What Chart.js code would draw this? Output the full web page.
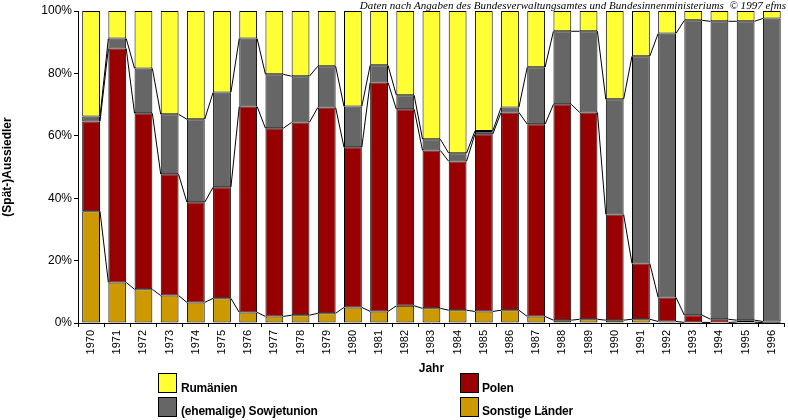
<!DOCTYPE html>
<html>
<head>
<meta charset="utf-8">
<script src="https://cdn.jsdelivr.net/npm/chart.js@4/dist/chart.umd.min.js"></script>
<style>
  body { margin: 0; background: #fff; }
  #wrap { position: relative; width: 788px; height: 420px; }
  .note { position: absolute; right: 2px; top: -1px; font: italic 11px "Liberation Serif", serif; letter-spacing: 0.05px; white-space: nowrap; color: #000; }
  .box { position: absolute; border: 1px solid #000; box-sizing: border-box; width: 19px; height: 20px; }
  .lbl { position: absolute; font: bold 12px "Liberation Sans", sans-serif; letter-spacing: -0.2px; line-height: 12px; white-space: nowrap; color: #000; }
</style>
</head>
<body>
<div id="wrap">
  <canvas id="chart" width="788" height="420"></canvas>
  <div class="note">Daten nach Angaben des Bundesverwaltungsamtes und Bundesinnenministeriums &nbsp;© 1997 efms</div>
  <div class="box" style="left:158px;top:373px;background:#ffff33"></div>
  <div class="lbl" style="left:181px;top:382px">Rumänien</div>
  <div class="box" style="left:158px;top:397px;background:#666666"></div>
  <div class="lbl" style="left:181px;top:405px">(ehemalige) Sowjetunion</div>
  <div class="box" style="left:460px;top:373px;background:#990000"></div>
  <div class="lbl" style="left:482px;top:382px">Polen</div>
  <div class="box" style="left:460px;top:397px;background:#cc9900"></div>
  <div class="lbl" style="left:482px;top:405px">Sonstige Länder</div>
</div>
<script>
// Data (shares in %)

const years = ['1970', '1971', '1972', '1973', '1974', '1975', '1976', '1977', '1978', '1979',
  '1980', '1981', '1982', '1983', '1984', '1985', '1986', '1987', '1988', '1989',
  '1990', '1991', '1992', '1993', '1994', '1995', '1996']

const sonstige = [35.8, 13.0, 10.8, 8.8, 6.6, 7.9, 3.4, 2.1, 2.5, 3.1,
  5.0, 3.7, 5.5, 4.7, 4.1, 3.7, 4.1, 2.1, 0.9, 1.2,
  0.9, 1.2, 0.5, 0.2, 0.2, 0.3, 0.1]

const polen = [28.8, 75.0, 56.4, 38.9, 32.1, 35.6, 66.0, 60.3, 61.8, 66.0,
  51.3, 73.4, 63.0, 50.6, 47.7, 56.8, 63.4, 61.6, 69.2, 66.3,
  33.9, 17.9, 7.7, 2.3, 1.0, 0.6, 0.4]

const sowjetunion = [1.6, 3.2, 14.4, 19.2, 26.6, 30.4, 21.8, 17.3, 14.8, 13.2,
  13.1, 5.5, 4.5, 3.6, 2.6, 1.0, 1.6, 18.3, 23.4, 26.0,
  36.9, 66.4, 84.6, 94.5, 95.5, 95.8, 97.1]

const rumaenien = [33.8, 8.8, 18.4, 33.1, 34.7, 26.1, 8.8, 20.3, 20.9, 17.7,
  30.6, 17.4, 27.0, 41.1, 45.6, 38.5, 30.9, 18.0, 6.5, 6.5,
  28.3, 14.5, 7.2, 3.0, 3.3, 3.3, 2.4]

const yTicks = [0, 20, 40, 60, 80, 100]

// Series lines between the bar tops

const seriesLines = {
  id: 'seriesLines',
  afterDatasetsDraw(chart) {
    const { ctx } = chart
    ctx.save()
    ctx.strokeStyle = '#000'
    ctx.lineWidth = 1

    for (let d = 0; d < chart.data.datasets.length - 1; d++) {
      const bars = chart.getDatasetMeta(d).data
      ctx.beginPath()
      for (let i = 0; i < bars.length - 1; i++) {
        const a = bars[i]
        const b = bars[i + 1]
        ctx.moveTo(a.x + a.width / 2, a.y)
        ctx.lineTo(b.x - b.width / 2, b.y)
      }
      ctx.stroke()
    }
    ctx.restore()
  },
}

const bar = (label, data, color) => ({
  label,
  data,
  backgroundColor: color,
  borderColor: '#000',
  borderWidth: 1,
  borderSkipped: false,
  barPercentage: 0.68,
  categoryPercentage: 1,
})

const ctx = document.getElementById('chart').getContext('2d')

new Chart(ctx, {
  type: 'bar',
  data: {
    labels: years,
    datasets: [
      bar('Sonstige Länder', sonstige, '#cc9900'),
      bar('Polen', polen, '#990000'),
      bar('(ehemalige) Sowjetunion', sowjetunion, '#666666'),
      bar('Rumänien', rumaenien, '#ffff33'),
    ],
  },
  options: {
    responsive: false,
    animation: false,
    layout: { padding: { top: 11, right: 0, bottom: 44, left: 0 } },
    plugins: {
      legend: { display: false },
      tooltip: { enabled: false },
    },
    scales: {
      x: {
        stacked: true,
        afterFit: (scale) => { scale.height = 53 },
        grid: { display: true, drawOnChartArea: false, drawTicks: true, tickLength: 4, color: '#000' },
        border: { display: true, color: '#000' },
        ticks: {
          autoSkip: false,
          minRotation: 90,
          maxRotation: 90,
          padding: 3,
          color: '#000',
          font: { family: 'Liberation Sans', size: 11 },
        },
        title: {
          display: true,
          text: 'Jahr',
          color: '#000',
          padding: 0,
          font: { family: 'Liberation Sans', size: 12, weight: 'bold' },
        },
      },
      y: {
        stacked: true,
        min: 0,
        max: 100,
        afterFit: (scale) => { scale.width = 78 },
        afterBuildTicks: (scale) => { scale.ticks = yTicks.map((v) => ({ value: v })) },
        grid: { display: true, drawOnChartArea: false, drawTicks: true, tickLength: 4, color: '#000' },
        border: { display: true, color: '#000' },
        ticks: {
          padding: 2,
          color: '#000',
          font: { family: 'Liberation Sans', size: 12 },
          callback: (v) => v + '%',
        },
        title: {
          display: true,
          text: '(Spät-)Aussiedler',
          color: '#000',
          padding: { top: 0, bottom: 0 },
          font: { family: 'Liberation Sans', size: 12, weight: 'bold' },
        },
      },
    },
  },
  plugins: [seriesLines],
})
</script>
</body>
</html>
